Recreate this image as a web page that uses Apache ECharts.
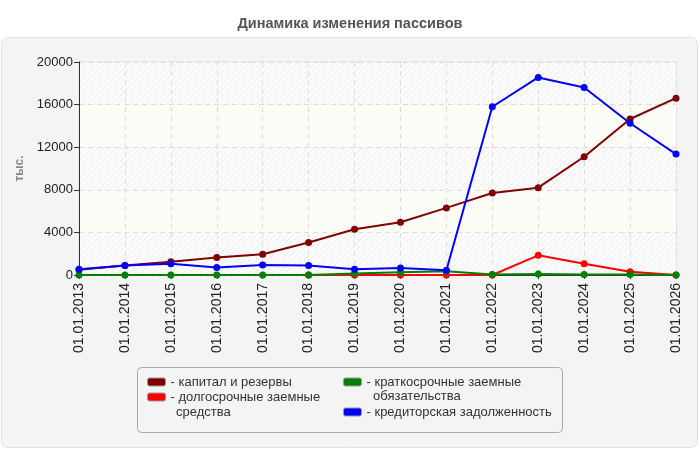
<!DOCTYPE html>
<html>
<head>
<meta charset="utf-8">
<script src="https://cdn.jsdelivr.net/npm/echarts@6/dist/echarts.min.js"></script>
<style>
html,body{margin:0;padding:0;background:#fff;}
#main{width:700px;height:450px;}
</style>
</head>
<body>
<div id="main"></div>
<script>
var years = ['01.01.2013','01.01.2014','01.01.2015','01.01.2016','01.01.2017','01.01.2018','01.01.2019',
    '01.01.2020','01.01.2021','01.01.2022','01.01.2023','01.01.2024','01.01.2025','01.01.2026'];
var seriesNames = ['капитал и резервы','долгосрочные заемные средства','краткосрочные заемные обязательства','кредиторская задолженность'];
// первая строка подписи в легенде и её перенос
var legendLine1 = ['капитал и резервы','долгосрочные заемные','краткосрочные заемные','кредиторская задолженность'];
var legendLine2 = ['','средства','обязательства',''];
var capital = [500, 900, 1250, 1650, 1950, 3050, 4300, 4950, 6300, 7700, 8200, 11100, 14650, 16600];
var longTerm = [null, null, null, null, null, 0, 0, 0, 0, 0, 1850, 1050, 300, 0];
var shortTerm = [0, 0, 0, 0, 0, 0, 150, 250, 350, 50, 100, 50, 50, 0];
var payables = [550, 900, 1050, 700, 950, 900, 550, 650, 450, 15800, 18550, 17600, 14250, 11350];
var colors = ['#800000','#ff0000','#008000','#0000ff'];

var _chart_obj = {
    init: function () {
        this.drawChart();
    },
    // диагональная штриховка для полос сетки
    makeHatch: function () {
        var c = document.createElement('canvas');
        c.width = 6; c.height = 6;
        var ctx = c.getContext('2d');
        ctx.fillStyle = '#fbfbfb';
        ctx.fillRect(0, 0, 6, 6);
        ctx.strokeStyle = '#ededed';
        ctx.lineWidth = 1;
        ctx.beginPath();
        ctx.moveTo(0, 6); ctx.lineTo(6, 0);
        ctx.moveTo(-3, 3); ctx.lineTo(3, -3);
        ctx.moveTo(3, 9); ctx.lineTo(9, 3);
        ctx.stroke();
        return {image: c, repeat: 'repeat'};
    },
    // одна легенда на серию, значок у первой строки
    makeLegend: function (idx, left, cy) {
        return {
            left: left,
            top: cy - 7.5,
            padding: 0,
            orient: 'vertical',
            icon: 'roundRect',
            itemWidth: 18,
            itemHeight: 8,
            itemStyle: {borderColor: '#999', borderWidth: 1},
            data: [seriesNames[idx]],
            textStyle: {fontFamily: 'Liberation Sans', fontSize: 13, color: '#333', lineHeight: 15},
            formatter: function () { return '- ' + legendLine1[idx]; }
        };
    },
    wrapText: function (idx, x, cy) {
        return {type: 'text', x: x, y: cy, style: {text: legendLine2[idx], font: '13px Liberation Sans',
            fill: '#333', verticalAlign: 'middle'}};
    },
    drawChart: function () {
        var myChart = echarts.init(document.getElementById('main'));
        var hatch = this.makeHatch();
        var all = [capital, longTerm, shortTerm, payables];
        var series = [];
        for (var i = 0; i < all.length; i++) {
            series.push({
                name: seriesNames[i],
                type: 'line',
                data: all[i],
                symbol: 'circle',
                symbolSize: 7,
                lineStyle: {width: 2, color: colors[i]},
                itemStyle: {color: colors[i]},
                connectNulls: false
            });
        }
        var option = {
            animation: false,
            color: colors,
            title: {
                text: 'Динамика изменения пассивов',
                left: 'center',
                top: 11,
                textStyle: {fontFamily: 'Liberation Sans', fontSize: 14.5, fontWeight: 'bold', color: '#555'}
            },
            graphic: [
                {type: 'rect', z: -10, shape: {x: 1.5, y: 37.5, width: 696, height: 410, r: 6},
                    style: {fill: '#f4f4f4', stroke: '#e2e2e2', lineWidth: 1}},
                {type: 'rect', z: -5, shape: {x: 137.5, y: 367.5, width: 425, height: 65, r: 4},
                    style: {fill: '#f4f4f4', stroke: '#aaa', lineWidth: 1}},
                this.wrapText(1, 176, 412),
                this.wrapText(2, 373, 396)
            ],
            legend: [
                this.makeLegend(0, 147, 382),
                this.makeLegend(1, 147, 397),
                this.makeLegend(2, 343, 382),
                this.makeLegend(3, 343, 412)
            ],
            grid: {left: 79, right: 24, top: 62, bottom: 175, show: true, borderColor: '#ddd', borderWidth: 1},
            xAxis: {
                type: 'category',
                data: years,
                boundaryGap: false,
                axisLine: {lineStyle: {color: '#333'}},
                axisTick: {show: true, length: 4, lineStyle: {color: '#333'}},
                axisLabel: {rotate: 90, fontFamily: 'Liberation Sans', fontSize: 14, color: '#222', margin: 8},
                splitLine: {show: true, lineStyle: {color: '#ddd', type: [5, 4]}}
            },
            yAxis: {
                type: 'value',
                min: 0,
                max: 20000,
                interval: 4000,
                name: 'тыс.',
                nameLocation: 'middle',
                nameGap: 53,
                nameTextStyle: {fontFamily: 'Liberation Sans', fontSize: 12, fontWeight: 'bold', color: '#888'},
                axisLine: {show: true, lineStyle: {color: '#333'}},
                axisTick: {show: true, length: 5, lineStyle: {color: '#333'}},
                axisLabel: {fontFamily: 'Liberation Sans', fontSize: 13, color: '#222', margin: 6,
                    formatter: function (v) { return String(v); }},
                splitLine: {show: true, lineStyle: {color: '#ddd', type: [5, 4]}},
                splitArea: {show: true, areaStyle: {color: [hatch, '#fdfdf8']}}
            },
            series: series
        };
        myChart.setOption(option);
    }
};
_chart_obj.init();
</script>
</body>
</html>
